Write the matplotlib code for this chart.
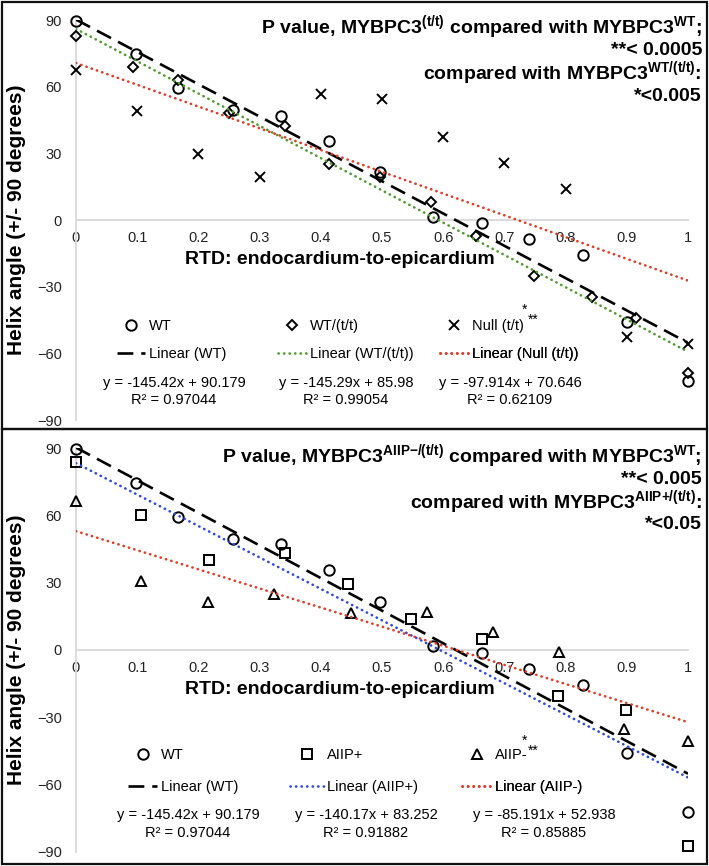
import numpy as np
import matplotlib
matplotlib.use('Agg')
import matplotlib.pyplot as plt
from matplotlib.lines import Line2D
from matplotlib.patches import Rectangle

# values
rtd_wt = [0.0, 0.098, 0.167, 0.257, 0.335, 0.414, 0.497, 0.583, 0.664, 0.740, 0.829, 0.901, 1.0]
helix_wt = [89.7, 74.5, 59.4, 49.5, 47.0, 35.5, 21.5, 1.5, -1.2, -8.6, -15.8, -46.0, -72.5]

rtd_wtt = [0.0, 0.093, 0.167, 0.250, 0.342, 0.414, 0.497, 0.580, 0.654, 0.748, 0.843, 0.915, 1.0]
helix_wtt = [83.0, 68.7, 63.0, 48.0, 42.4, 25.2, 19.5, 8.2, -7.0, -25.0, -34.5, -44.3, -69.0]

rtd_null = [0.0, 0.1, 0.2, 0.3, 0.4, 0.5, 0.6, 0.7, 0.8, 0.9, 1.0]
helix_null = [67.5, 49.2, 29.6, 19.5, 56.6, 54.3, 37.5, 25.5, 13.8, -52.5, -56.0]

rtd_aiip_p = [0.0, 0.106, 0.218, 0.342, 0.444, 0.547, 0.664, 0.787, 0.898, 1.0]
helix_aiip_p = [83.6, 60.0, 39.9, 43.4, 29.5, 13.9, 4.9, -20.4, -26.8, -87.5]

rtd_aiip_m = [0.0, 0.107, 0.216, 0.324, 0.449, 0.574, 0.682, 0.790, 0.896, 1.0]
helix_aiip_m = [66.5, 30.5, 21.3, 25.0, 16.4, 16.8, 7.9, -1.0, -35.3, -40.5]

# trendline coefficients as printed on the chart
slope_wt, icpt_wt, r2_wt = -145.42, 90.179, 0.97044
slope_wtt, icpt_wtt, r2_wtt = -145.29, 85.98, 0.99054
slope_null, icpt_null, r2_null = -97.914, 70.646, 0.62109
slope_aiip_p, icpt_aiip_p, r2_aiip_p = -140.17, 83.252, 0.91882
slope_aiip_m, icpt_aiip_m, r2_aiip_m = -85.191, 52.938, 0.85885

xticks = [0, 0.1, 0.2, 0.3, 0.4, 0.5, 0.6, 0.7, 0.8, 0.9, 1.0]
xtick_labels = ['0', '0.1', '0.2', '0.3', '0.4', '0.5', '0.6', '0.7', '0.8', '0.9', '1']
yticks = [-90, -60, -30, 0, 30, 60, 90]

W, H = 709, 866
GREEN = '#4e9a2f'
RED = '#e03c28'
BLUE = '#2f48e0'
GRID = '#d9d9d9'


def fx(x):
    return x / W


def fy(y):
    return 1 - y / H


def marker_style(m, ms):
    return dict(linestyle='none', marker=m, ms=ms, mfc='none', mec='k', mew=1.4)


def dashed(color):
    return dict(color=color, lw=1.9, linestyle=(0, (6, 3)))


def dotted(color):
    return dict(color=color, lw=1.9, linestyle=(0, (0.1, 2.0)), dash_capstyle='round')


def setup_axes(ax):
    ax.set_xlim(0, 1)
    ax.set_ylim(-90, 90)
    for s in ('top', 'right'):
        ax.spines[s].set_visible(False)
    ax.spines['bottom'].set_position(('data', 0))
    for s in ('left', 'bottom'):
        ax.spines[s].set_color(GRID)
        ax.spines[s].set_linewidth(1.3)
    ax.set_xticks(xticks)
    ax.set_xticklabels(xtick_labels)
    ax.set_yticks(yticks)
    ax.tick_params(axis='both', length=0, labelsize=10.5, colors='#222222')
    ax.tick_params(axis='x', pad=8)
    ax.tick_params(axis='y', pad=10)
    ax.patch.set_alpha(0)


def add_key(fig, ax, handle, label, x0, y, hl=1.95):
    leg = ax.legend(handles=[handle], labels=[label], loc='center left',
                    bbox_to_anchor=(fx(x0), fy(y)), bbox_transform=fig.transFigure,
                    frameon=False, fontsize=10.5, handlelength=hl, handletextpad=0.25,
                    borderpad=0, borderaxespad=0)
    ax.add_artist(leg)


def main():
    plt.rcParams['font.family'] = 'Liberation Sans'
    plt.rcParams['mathtext.fontset'] = 'custom'
    plt.rcParams['mathtext.rm'] = 'Liberation Sans'
    plt.rcParams['mathtext.bf'] = 'Liberation Sans:bold'
    plt.rcParams['mathtext.it'] = 'Liberation Sans:italic'

    fig = plt.figure(figsize=(W / 100, H / 100), dpi=100)
    xfit = np.array([0.0, 1.0])

    # ---------------- top panel ----------------
    ax1 = fig.add_axes([fx(76), fy(420), 612 / W, 400 / H])
    setup_axes(ax1)
    ax1.plot(rtd_wt, helix_wt, clip_on=False, zorder=3, **marker_style('o', 7.5))
    ax1.plot(rtd_wtt, helix_wtt, clip_on=False, zorder=3, **marker_style('D', 5.5))
    ax1.plot(rtd_null, helix_null, clip_on=False, zorder=3, **marker_style('x', 7))
    ax1.plot(xfit, slope_wt * xfit + icpt_wt, zorder=4, **dashed('k'))
    ax1.plot(xfit, slope_wtt * xfit + icpt_wtt, zorder=4, **dotted(GREEN))
    ax1.plot(xfit, slope_null * xfit + icpt_null, zorder=4, **dotted(RED))

    add_key(fig, ax1, Line2D([], [], **marker_style('o', 7.5)), 'WT', 117, 326)
    add_key(fig, ax1, Line2D([], [], **marker_style('D', 5.5)), 'WT/(t/t)', 278, 326)
    add_key(fig, ax1, Line2D([], [], **marker_style('x', 7)), 'Null (t/t)', 440, 326)
    add_key(fig, ax1, Line2D([], [], **dashed('k')), 'Linear (WT)', 117, 354)
    add_key(fig, ax1, Line2D([], [], **dotted(GREEN)), 'Linear (WT/(t/t))', 278, 354)
    add_key(fig, ax1, Line2D([], [], **dotted(RED)), 'Linear (Null (t/t))', 440, 354)
    fig.text(fx(525), fy(310), '*', fontsize=10, ha='center', va='center')
    fig.text(fx(533), fy(320), '**', fontsize=10, ha='center', va='center')

    for cx, s, b, r in ((174, slope_wt, icpt_wt, r2_wt), (346, slope_wtt, icpt_wtt, r2_wtt),
                        (510, slope_null, icpt_null, r2_null)):
        fig.text(fx(cx), fy(383), f'y = {s}x + {b}', fontsize=10.5, ha='center', va='center')
        fig.text(fx(cx), fy(400), f'R² = {r}', fontsize=10.5, ha='center', va='center')

    ann_top = [r'P value, MYBPC3$^{\mathbf{(t/t)}}$ compared with MYBPC3$^{\mathbf{WT}}$;',
               '**< 0.0005',
               r'compared with MYBPC3$^{\mathbf{WT/(t/t)}}$:',
               '*<0.005']
    for txt, yb in zip(ann_top, (33, 55, 79, 101)):
        fig.text(fx(702), fy(yb), txt, fontsize=14, fontweight='bold', ha='right', va='baseline')

    fig.text(fx(340), fy(260), 'RTD: endocardium-to-epicardium', fontsize=14,
             fontweight='bold', ha='center', va='center')
    fig.text(fx(17), fy(220), 'Helix angle (+/- 90 degrees)', fontsize=15,
             fontweight='bold', ha='center', va='center', rotation=90)

    # ---------------- bottom panel ----------------
    ax2 = fig.add_axes([fx(76), fy(851.7), 612 / W, 403.7 / H])
    setup_axes(ax2)
    ax2.plot(rtd_wt, helix_wt, clip_on=False, zorder=3, **marker_style('o', 7.5))
    ax2.plot(rtd_aiip_p, helix_aiip_p, clip_on=False, zorder=3, **marker_style('s', 7))
    ax2.plot(rtd_aiip_m, helix_aiip_m, clip_on=False, zorder=3, **marker_style('^', 7.5))
    ax2.plot(xfit, slope_wt * xfit + icpt_wt, zorder=4, **dashed('k'))
    ax2.plot(xfit, slope_aiip_p * xfit + icpt_aiip_p, zorder=4, **dotted(BLUE))
    ax2.plot(xfit, slope_aiip_m * xfit + icpt_aiip_m, zorder=4, **dotted(RED))

    add_key(fig, ax2, Line2D([], [], **marker_style('o', 7.5)), 'WT', 128, 755, 2.0)
    add_key(fig, ax2, Line2D([], [], **marker_style('s', 7)), 'AIIP+', 290, 755, 2.3)
    add_key(fig, ax2, Line2D([], [], **marker_style('^', 7.5)), 'AIIP-', 462, 755, 2.0)
    add_key(fig, ax2, Line2D([], [], **dashed('k')), 'Linear (WT)', 128, 787, 2.0)
    add_key(fig, ax2, Line2D([], [], **dotted(BLUE)), 'Linear (AIIP+)', 290, 787, 2.3)
    add_key(fig, ax2, Line2D([], [], **dotted(RED)), 'Linear (AIIP-)', 462, 787, 2.0)
    fig.text(fx(525), fy(741), '*', fontsize=10, ha='center', va='center')
    fig.text(fx(533), fy(751), '**', fontsize=10, ha='center', va='center')

    for cx, s, b, r in ((188, slope_wt, icpt_wt, r2_wt), (366, slope_aiip_p, icpt_aiip_p, r2_aiip_p),
                        (544, slope_aiip_m, icpt_aiip_m, r2_aiip_m)):
        fig.text(fx(cx), fy(815), f'y = {s}x + {b}', fontsize=10.5, ha='center', va='center')
        fig.text(fx(cx), fy(833), f'R² = {r}', fontsize=10.5, ha='center', va='center')

    ann_bot = [r'P value, MYBPC3$^{\mathbf{AIIP{-}/(t/t)}}$ compared with MYBPC3$^{\mathbf{WT}}$;',
               '**< 0.005',
               r'compared with MYBPC3$^{\mathbf{AIIP{+}/(t/t)}}$:',
               '*<0.05']
    for txt, yb in zip(ann_bot, (462, 484, 508, 529)):
        fig.text(fx(702), fy(yb), txt, fontsize=14, fontweight='bold', ha='right', va='baseline')

    fig.text(fx(340), fy(689), 'RTD: endocardium-to-epicardium', fontsize=14,
             fontweight='bold', ha='center', va='center')
    fig.text(fx(17), fy(650), 'Helix angle (+/- 90 degrees)', fontsize=15,
             fontweight='bold', ha='center', va='center', rotation=90)

    # panel frames
    for y0, y1 in ((1.5, 429), (429, 864)):
        fig.add_artist(Rectangle((fx(1.5), fy(y1)), fx(707 - 1.5), (y1 - y0) / H,
                                 transform=fig.transFigure, fill=False, ec='#111111', lw=1.6))

    fig.savefig('out.png', dpi=100)
    return 0


if __name__ == '__main__':
    main()
